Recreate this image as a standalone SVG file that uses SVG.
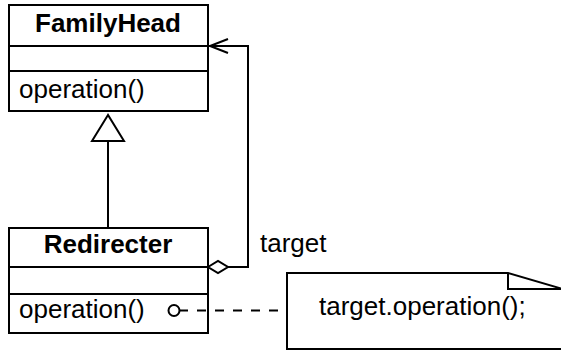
<svg xmlns="http://www.w3.org/2000/svg" width="561" height="352" viewBox="0 0 561 352">
<style>
.box{fill:#fff;stroke:#000;stroke-width:2}
.ln{fill:none;stroke:#000;stroke-width:2}
.t{font-family:"Liberation Sans",Arial,Helvetica,sans-serif;font-size:26px;fill:#000}
.b{font-weight:bold;text-anchor:middle}
</style>
<g id="FamilyHead">
<rect class="box" x="9" y="5" width="199" height="106"/>
<path class="ln" d="M9,46 H208 M9,71 H208"/>
<text class="t b" x="108" y="32">FamilyHead</text>
<text class="t" x="19" y="98">operation()</text>
</g>
<g id="Redirecter">
<rect class="box" x="9" y="228" width="199" height="105"/>
<path class="ln" d="M9,267 H208 M9,294 H208"/>
<text class="t b" x="108" y="253">Redirecter</text>
<text class="t" x="19" y="318">operation()</text>
</g>
<g id="note">
<path class="box" d="M287,273 H508 L563,289 V349 H287 Z"/>
<path class="ln" d="M508,273 V289 H563"/>
<text class="t" x="319" y="315">target.operation();</text>
</g>
<g id="connectors">
<path class="ln" d="M108,141 V228"/>
<polygon class="box" points="108,115 92,141 124,141"/>
<path class="ln" d="M228,267 H248 V46 H209"/>
<path class="ln" d="M228,39 L210,46 L228,53"/>
<polygon class="box" points="208,267 218,261 228,267 218,273"/>
<path class="ln" d="M179,310.5 H286" stroke-dasharray="9,9"/>
<circle class="box" cx="174" cy="310.5" r="5.5"/>
<text class="t" x="260" y="252">target</text>
</g>
</svg>
